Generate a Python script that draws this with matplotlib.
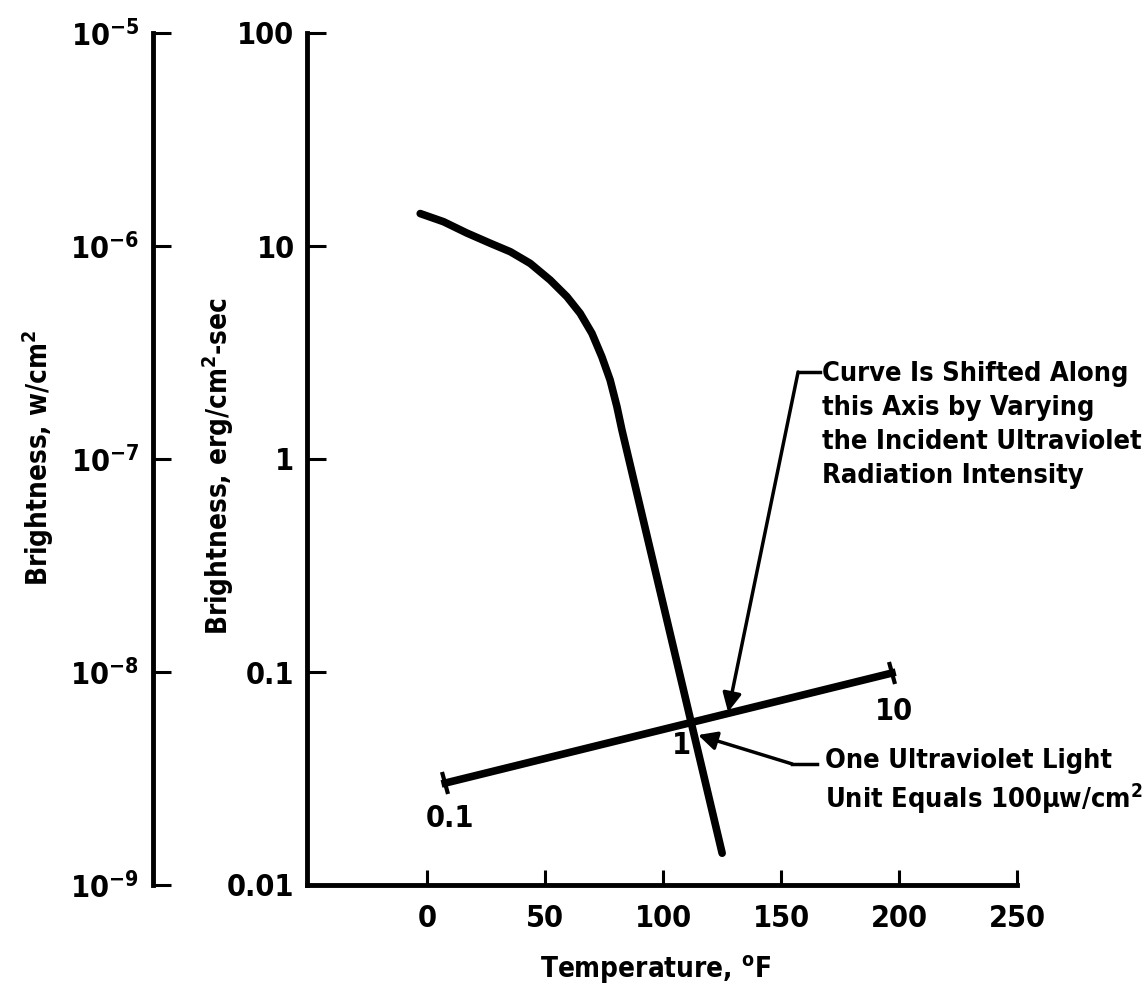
import matplotlib
matplotlib.use('Agg')
from matplotlib import pyplot as plt
from matplotlib import font_manager
from matplotlib.markers import MarkerStyle
from matplotlib.transforms import Affine2D

# look for a narrow face, the original lettering is a condensed bold sans
narrow = [f.name for f in font_manager.fontManager.ttflist
          if 'Narrow' in f.name or 'Condensed' in f.name or str(f.stretch) == 'condensed']
if narrow:
    plt.rcParams['font.family'] = [narrow[0], 'DejaVu Sans']
    plt.rcParams['font.stretch'] = 'condensed'
    font_size = 22
else:
    plt.rcParams['font.family'] = ['Liberation Sans', 'DejaVu Sans']
    font_size = 19
plt.rcParams['font.weight'] = 'bold'
plt.rcParams['axes.labelweight'] = 'bold'
plt.rcParams['mathtext.default'] = 'regular'

# curve (temperature F, brightness erg/cm2-sec)
temp = [-3.0, 6.9, 16.8, 26.7, 35.2, 43.6, 52.1, 59.2, 64.8, 69.8, 74.0, 77.5, 80.4, 82.5, 125.0]
bright = [14.2, 13.0, 11.5, 10.3, 9.40, 8.29, 6.92, 5.78, 4.83, 3.89, 3.02, 2.35, 1.76, 1.37, 0.0141]

# UV light unit scale line (ends at 0.1 and 10 units)
scale_x = [7.6, 197.0]
scale_y = [0.0301, 0.0989]
scale_labels = ['0.1', '10']

x_ticks = [0, 50, 100, 150, 200, 250]
y_ticks = [0.01, 0.1, 1, 10, 100]
y_ticklabels = ['0.01', '0.1', '1', '10', '100']
w_ticks = [1e-9, 1e-8, 1e-7, 1e-6, 1e-5]
w_ticklabels = ['10$^{-9}$', '10$^{-8}$', '10$^{-7}$', '10$^{-6}$', '10$^{-5}$']

W, H = 1147, 991
fig = plt.figure(figsize=(W / 100, H / 100), dpi=100)
note_size = font_size - 2.5
label_size = font_size - 2

bottom = (H - 885) / H
height = (885 - 33) / H
ax = fig.add_axes([307 / W, bottom, (1017 - 307) / W, height])
ax.set_yscale('log')
ax.set_xlim(-51, 250)
ax.set_ylim(0.01, 100)
ax.set_xticks(x_ticks)
ax.set_xticklabels([str(t) for t in x_ticks], fontsize=font_size)
ax.set_yticks(y_ticks)
ax.set_yticklabels(y_ticklabels, fontsize=font_size)
ax.yaxis.set_minor_locator(matplotlib.ticker.NullLocator())
ax.spines['top'].set_visible(False)
ax.spines['right'].set_visible(False)
for s in ['left', 'bottom']:
    ax.spines[s].set_linewidth(3.5)
ax.tick_params(axis='y', direction='in', length=14, width=2.2, pad=9)
ax.tick_params(axis='x', direction='in', length=11, width=2.2, pad=14)

ax.plot(temp, bright, color='black', lw=5.5, solid_capstyle='round', solid_joinstyle='round')

cap = MarkerStyle('|', transform=Affine2D().rotate_deg(14))
ax.plot(scale_x, scale_y, color='black', lw=5.5)
ax.plot(scale_x, scale_y, ls='none', marker=cap, markersize=17, mew=3, color='black')
ax.text(9.7, 0.0206, scale_labels[0], fontsize=font_size, ha='center', va='center')
ax.text(197.9, 0.0649, scale_labels[1], fontsize=font_size, ha='center', va='center')
ax.text(107.6, 0.0454, '1', fontsize=font_size, ha='center', va='center')

# leader lines
arrow = dict(arrowstyle='-|>', lw=2.5, color='black', mutation_scale=28, shrinkA=0, shrinkB=0)
ax.annotate('', xy=(127.5, 0.0649), xytext=(157.2, 2.56), arrowprops=arrow)
ax.plot([157.2, 166.5], [2.56, 2.56], color='black', lw=2.5)
ax.annotate('', xy=(114.8, 0.0506), xytext=(154.7, 0.0370), arrowprops=arrow)
ax.plot([154.7, 165.3], [0.0370, 0.0370], color='black', lw=2.5)

fig.text(822 / W, 1 - 425 / H,
         'Curve Is Shifted Along\nthis Axis by Varying\nthe Incident Ultraviolet\nRadiation Intensity',
         fontsize=note_size, ha='left', va='center', linespacing=1.4)
fig.text(825 / W, 1 - 782 / H,
         'One Ultraviolet Light\nUnit Equals 100μw/cm$^2$',
         fontsize=note_size, ha='left', va='center', linespacing=1.3)

ax.set_xlabel('Temperature, $^{o}$F', fontsize=label_size)
ax.xaxis.set_label_coords((656 - 307) / (1017 - 307), -(954 - 885) / (885 - 33))

# second brightness scale on the far left
ax2 = fig.add_axes([153 / W, bottom, 0.001, height])
ax2.set_yscale('log')
ax2.set_ylim(1e-9, 1e-5)
ax2.set_yticks(w_ticks)
ax2.set_yticklabels(w_ticklabels, fontsize=font_size)
ax2.yaxis.set_minor_locator(matplotlib.ticker.NullLocator())
ax2.set_xticks([])
for s in ['top', 'right', 'bottom']:
    ax2.spines[s].set_visible(False)
ax2.spines['left'].set_linewidth(3.5)
ax2.tick_params(axis='y', direction='in', length=13, width=2.2, pad=10)
ax2.patch.set_visible(False)

fig.text(38 / W, 1 - 458 / H, 'Brightness, w/cm$^2$', fontsize=label_size,
         rotation=90, ha='center', va='center')
fig.text(218 / W, 1 - 466 / H, 'Brightness, erg/cm$^2$-sec', fontsize=label_size,
         rotation=90, ha='center', va='center')

plt.savefig('out.png', dpi=100)
